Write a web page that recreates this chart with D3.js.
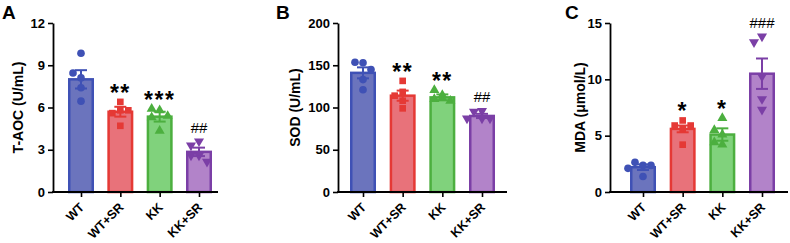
<!DOCTYPE html>
<html>
<head>
<meta charset="utf-8">
<script src="https://cdn.jsdelivr.net/npm/d3@7"></script>
<style>
  body { margin: 0; background: #fff; }
  svg { display: block; font-family: "Liberation Sans", Arial, sans-serif; }
</style>
</head>
<body>
<svg id="chart"></svg>
<script>
// ---- data ----
const groups = ["WT", "WT+SR", "KK", "KK+SR"];

const taocMean = [8.0, 5.7, 5.35, 2.85];
const taocSem = [0.65, 0.35, 0.35, 0.3];
const taocPoints = [
  [9.85, 8.1, 8.45, 7.4, 6.45],
  [6.4, 5.8, 5.6, 5.8, 4.7],
  [5.8, 5.9, 5.4, 4.35, 5.3],
  [3.6, 3.3, 2.6, 2.6, 2.15]
];
const taocTicks = [0, 3, 6, 9, 12];
const taocSig = ["", "**", "***", "##"];

const sodMean = [141, 114, 112, 90];
const sodSem = [6.5, 6, 3.5, 2.5];
const sodPoints = [
  [153, 153.5, 145, 121, 133],
  [131.5, 118.5, 99, 114, 108],
  [114.6, 120.5, 110, 108, 111],
  [96, 95, 87, 87, 87]
];
const sodTicks = [0, 50, 100, 150, 200];
const sodSig = ["", "**", "**", "##"];

const mdaMean = [2.2, 5.6, 5.1, 10.5];
const mdaSem = [0.25, 0.3, 0.55, 1.35];
const mdaPoints = [
  [2.36, 2.63, 2.36, 1.38, 2.1],
  [6.35, 4.2, 5.6, 5.9, 5.9],
  [6.56, 5.1, 5.5, 4.2, 4.4],
  [13.8, 13.3, 10.25, 8.25, 7.3]
];
const mdaTicks = [0, 5, 10, 15];
const mdaSig = ["", "*", "*", "###"];

// ---- styles ----
const fills = ["#6b74bd", "#e8727a", "#80d27c", "#b283c9"];
const strokes = ["#3f51b5", "#e53935", "#4caf3f", "#7b3fa6"];
const shapes = [d3.symbolCircle, d3.symbolSquare, d3.symbolTriangle, d3.symbolTriangle];

const width = 790, height = 243;
const yTop = 23, yBottom = 192;
const barW = 26;

const panels = [
  { letter: "A", letterX: 2, label: "T-AOC (U/mL)", labelX: 18,
    left: 53, right: 218, first: 81, last: 199,
    mean: taocMean, sem: taocSem, points: taocPoints, ticks: taocTicks, sig: taocSig },
  { letter: "B", letterX: 276, label: "SOD (U/mL)", labelX: 295,
    left: 338, right: 507, first: 363, last: 482,
    mean: sodMean, sem: sodSem, points: sodPoints, ticks: sodTicks, sig: sodSig },
  { letter: "C", letterX: 565, label: "MDA (\u03bcmol/L)", labelX: 580,
    left: 610, right: 788, first: 643, last: 762,
    mean: mdaMean, sem: mdaSem, points: mdaPoints, ticks: mdaTicks, sig: mdaSig }
];

const svg = d3.select("#chart")
  .attr("width", width)
  .attr("height", height);

svg.append("rect").attr("width", width).attr("height", height).attr("fill", "#fff");

// simple beeswarm: spread points that would overlap
function swarm(vals, y) {
  const placed = [];
  const offs = [0, -8, 8, -15, 15];
  vals.forEach(v => {
    const py = y(v);
    let dx = 0;
    for (const o of offs) {
      const ok = placed.every(p => Math.hypot(p.dx - o, p.py - py) >= 7.5);
      if (ok) { dx = o; break; }
    }
    placed.push({ v, py, dx });
  });
  return placed;
}

panels.forEach(p => {
  const g = svg.append("g");

  const y = d3.scaleLinear()
    .domain([0, d3.max(p.ticks)])
    .range([yBottom, yTop]);

  const x = d3.scalePoint()
    .domain(groups)
    .range([p.first, p.last]);

  // panel letter
  g.append("text")
    .attr("x", p.letterX)
    .attr("y", 18.5)
    .attr("font-size", "19px")
    .attr("font-weight", "bold")
    .text(p.letter);

  // y label
  g.append("text")
    .attr("transform", `translate(${p.labelX + 5},${(yTop + yBottom) / 2}) rotate(-90)`)
    .attr("text-anchor", "middle")
    .attr("font-size", "14px")
    .attr("font-weight", "bold")
    .text(p.label);

  // bars
  g.selectAll("rect.bar")
    .data(p.mean)
    .join("rect")
    .attr("class", "bar")
    .attr("x", (d, i) => x(groups[i]) - barW / 2 + 1.25)
    .attr("width", barW - 2.5)
    .attr("y", d => y(d))
    .attr("height", d => yBottom - y(d))
    .attr("fill", (d, i) => fills[i])
    .attr("stroke", (d, i) => strokes[i])
    .attr("stroke-width", 2.5);

  // points
  p.points.forEach((vals, i) => {
    const cx = x(groups[i]);
    const sym = d3.symbol().type(shapes[i]).size(i === 0 ? 46 : 44);
    g.selectAll(null)
      .data(swarm(vals, y))
      .join("path")
      .attr("d", sym)
      .attr("transform", d => `translate(${cx + d.dx},${d.py})${i === 3 ? " rotate(180)" : ""}`)
      .attr("fill", strokes[i]);
  });

  // error bars (mean +/- SEM)
  p.mean.forEach((m, i) => {
    const cx = x(groups[i]);
    const eb = g.append("g")
      .attr("stroke", strokes[i])
      .attr("stroke-width", 2)
      .attr("fill", "none");
    eb.append("line")
      .attr("x1", cx).attr("x2", cx)
      .attr("y1", y(m - p.sem[i])).attr("y2", y(m + p.sem[i]));
    eb.append("line")
      .attr("x1", cx - 6).attr("x2", cx + 6)
      .attr("y1", y(m + p.sem[i])).attr("y2", y(m + p.sem[i]));
    eb.append("line")
      .attr("x1", cx - 6).attr("x2", cx + 6)
      .attr("y1", y(m - p.sem[i])).attr("y2", y(m - p.sem[i]));
  });

  // significance marks
  p.sig.forEach((s, i) => {
    if (!s) return;
    const top = y(d3.max(p.points[i])) - 14;
    const star = s[0] === "*";
    g.append("text")
      .attr("x", x(groups[i]))
      .attr("y", top + (star ? 13 : 5.5))
      .attr("text-anchor", "middle")
      .attr("font-size", star ? "23px" : "15px")
      .attr("font-weight", star ? "bold" : "normal")
      .attr("letter-spacing", star ? "1.5px" : "0px")
      .text(s);
  });

  // y axis
  const yAxis = g.append("g")
    .attr("transform", `translate(${p.left},0)`)
    .call(d3.axisLeft(y).tickValues(p.ticks).tickSize(5).tickSizeOuter(0).tickPadding(3));
  yAxis.select(".domain").attr("stroke-width", 1.8);
  yAxis.selectAll(".tick line").attr("stroke-width", 1.6);
  yAxis.selectAll(".tick text")
    .attr("font-size", "13px")
    .attr("font-weight", "bold")
    .attr("font-family", "Liberation Sans, Arial, sans-serif")
    .attr("fill", "#000");

  // x axis
  const xAxis = g.append("g")
    .attr("transform", `translate(0,${yBottom})`)
    .call(d3.axisBottom(x).tickSize(5).tickSizeOuter(0).tickFormat(""));
  xAxis.select(".domain")
    .attr("d", `M${p.left - 0.9},0H${p.right}`)
    .attr("stroke-width", 1.8);
  xAxis.selectAll(".tick line").attr("stroke-width", 1.6);

  g.selectAll("text.xlab")
    .data(groups)
    .join("text")
    .attr("class", "xlab")
    .attr("transform", d => `translate(${x(d) + 4},${yBottom + 16}) rotate(-45)`)
    .attr("text-anchor", "end")
    .attr("font-size", "12.5px")
    .attr("font-weight", "bold")
    .text(d => d);
});
</script>
</body>
</html>
